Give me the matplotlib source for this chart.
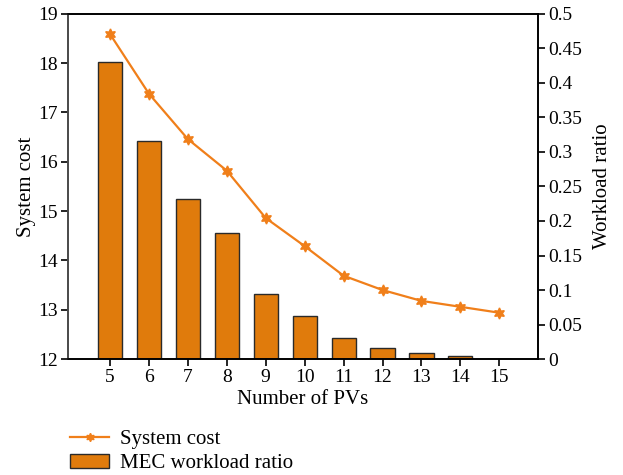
import matplotlib.pyplot as plt
from matplotlib.patches import Patch
from matplotlib.lines import Line2D

plt.rcParams['font.family'] = ['Liberation Serif', 'DejaVu Serif']

num_pvs = [5, 6, 7, 8, 9, 10, 11, 12, 13, 14, 15]
system_cost = [18.59, 17.38, 16.46, 15.82, 14.86, 14.29, 13.69, 13.40, 13.18, 13.06, 12.94]
workload_ratio = [0.430, 0.316, 0.232, 0.183, 0.094, 0.062, 0.030, 0.016, 0.009, 0.004, 0.0]

bar_color = '#E07B0C'
line_color = '#F07F1A'

fig = plt.figure(figsize=(6.23, 4.75), dpi=100)
ax = fig.add_axes([0.109, 0.244, 0.755, 0.727])
ax2 = ax.twinx()

# bars on the right axis, line on the left
ax2.bar(num_pvs, workload_ratio, width=0.62, color=bar_color, edgecolor='#2a2a2a', linewidth=1.0, zorder=2)
ax.plot(num_pvs, system_cost, color=line_color, linewidth=1.6, marker=(6, 1, 0), markersize=8, zorder=5)
ax.set_zorder(ax2.get_zorder() + 1)
ax.patch.set_visible(False)

ax.set_xlim(3.92, 16.0)
ax.set_ylim(12, 19)
ax2.set_ylim(0, 0.5)
ax.set_xticks(num_pvs)
ax2.set_yticks([0, 0.05, 0.1, 0.15, 0.2, 0.25, 0.3, 0.35, 0.4, 0.45, 0.5])
ax2.set_yticklabels(['0', '0.05', '0.1', '0.15', '0.2', '0.25', '0.3', '0.35', '0.4', '0.45', '0.5'])

for a in (ax, ax2):
    a.tick_params(direction='out', length=5, width=1.2, labelsize=14, pad=2)
    for s in a.spines.values():
        s.set_linewidth(1.2)
ax.spines['left'].set_color('#555555')

ax.set_xlabel('Number of PVs', fontsize=15, labelpad=3)
ax.set_ylabel('System cost', fontsize=15, labelpad=2)
ax2.set_ylabel('Workload ratio', fontsize=15, labelpad=8)

handles = [
    Line2D([], [], color=line_color, linewidth=1.6, marker=(6, 1, 0), markersize=6),
    Patch(facecolor=bar_color, edgecolor='#2a2a2a'),
]
fig.legend(handles, ['System cost', 'MEC workload ratio'], loc='upper left',
           bbox_to_anchor=(0.112, 0.0955), frameon=False, fontsize=15,
           handlelength=1.9, handletextpad=0.5, labelspacing=0.22, borderpad=0,
           borderaxespad=0)

fig.savefig('out.png', dpi=100)
